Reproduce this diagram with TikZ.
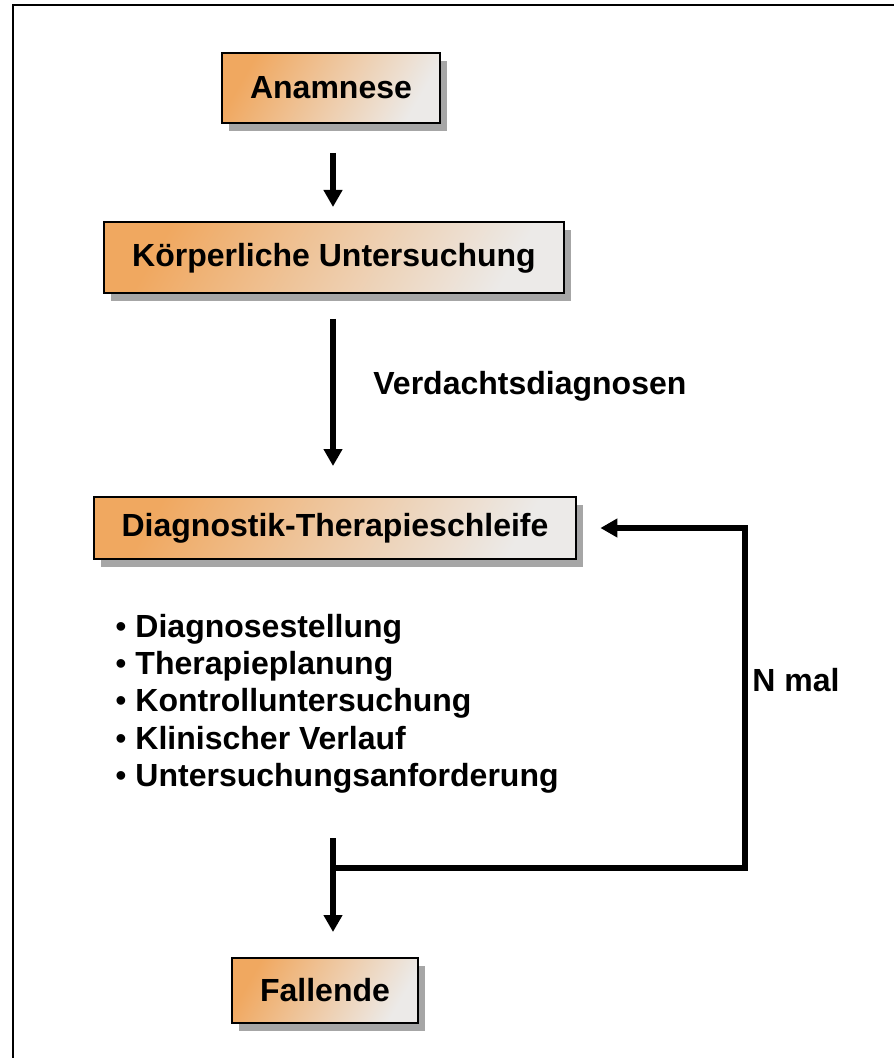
\documentclass[tikz,border=0pt]{standalone}
\usepackage{fontspec}
\setmainfont{Liberation Sans}
\usetikzlibrary{calc}
\usetikzlibrary{arrows.meta}
\usetikzlibrary{shadows}
\definecolor{boxorange}{RGB}{240,168,96}
\definecolor{boxgrey}{RGB}{236,234,232}

\begin{document}
\begin{tikzpicture}[x=0.5pt, y=-0.5pt,
  every node/.style={font=\fontsize{16}{18.5}\selectfont\bfseries},
  stage/.style={draw=black, line width=1pt, inner xsep=14pt,
    top color=boxorange, bottom color=boxgrey, shading angle=60,
    drop shadow={shadow xshift=3.5pt, shadow yshift=-4pt, fill=black!35, opacity=1}},
  flow/.style={line width=3pt, ->, >={Triangle[length=8.5pt,width=9pt]}}]
\useasboundingbox (0,0) rectangle (894,1058);
\draw[line width=1pt] (13,1058) -- (13,5) -- (894,5);

\node[stage, minimum height=35pt] (anam) at (331,88) {Anamnese};
\node[stage, minimum height=35.5pt] (koerp) at (334,258) {Körperliche Untersuchung};
\node[stage, minimum height=31pt] (diag) at (335,528) {Diagnostik-Therapieschleife};
\node[stage, minimum height=32.5pt] (fall) at (325,990) {Fallende};

\coordinate (axis) at (333,0);
\draw[flow, shorten <=14.5pt, shorten >=7.25pt] (anam.south -| axis) -- (koerp.north -| axis);
\draw[flow, shorten <=12.25pt, shorten >=15pt] (koerp.south -| axis) -- (diag.north -| axis);
\node[anchor=west, inner sep=0pt] (susp) at (373,386) {Verdachtsdiagnosen};

\foreach \task [count=\i] in {Diagnosestellung,Therapieplanung,Kontrolluntersuchung,Klinischer Verlauf,Untersuchungsanforderung}
  \node[anchor=base west, inner sep=0pt] (task\i) at (115,600+37.25*\i) {{\mdseries\textbullet}\ \task};

\coordinate (jtop) at (333,838);
\coordinate (join) at (333,868);
\coordinate (back) at (745,868);
\draw[flow, shorten >=11.5pt] (join) -- (back) |- (diag.east);
\draw[flow, shorten >=12.25pt] (jtop) -- (fall.north -| axis);
\node[anchor=west, inner sep=0pt] (nmal) at (752,680) {N mal};
\end{tikzpicture}
\end{document}
